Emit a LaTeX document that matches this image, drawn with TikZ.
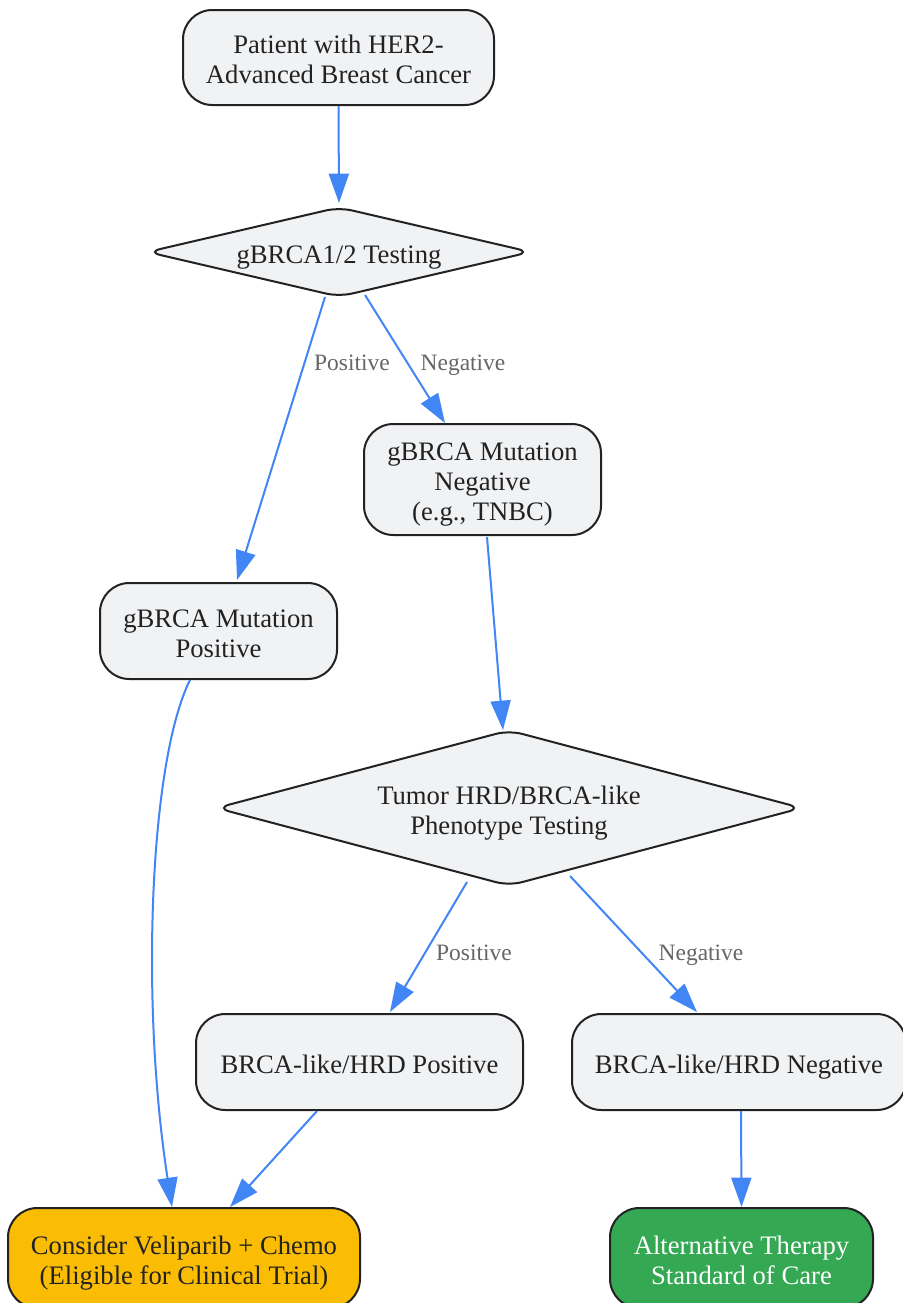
\documentclass[tikz,border=0pt]{standalone}
\usepackage{fontspec}
\setmainfont{Liberation Serif}
\usetikzlibrary{shapes.geometric,arrows.meta,calc}
\definecolor{nodefill}{HTML}{F1F2F4}
\definecolor{nodedraw}{HTML}{222222}
\definecolor{edgeblue}{HTML}{4285F4}
\definecolor{lblgray}{HTML}{666666}
\definecolor{yel}{HTML}{FBBC04}
\definecolor{grn}{HTML}{34A853}
\newcommand\nstrut{\rule[-0.216em]{0pt}{\dimexpr1.107em+3pt\relax}}
\newcommand\ml{\rule{0pt}{\dimexpr0.891em+3pt\relax}}
\newcommand\estrut{\rule[-0.216em]{0pt}{1.107em}}
\begin{document}
\begin{tikzpicture}[x=0.75pt,y=-0.75pt,
  box/.style={draw=nodedraw,line width=1.5pt,fill=nodefill,rounded corners=22pt,align=center,
    font=\fontsize{20}{22.5}\selectfont,text=nodedraw,inner sep=0pt,
    execute at begin node=\nstrut,execute at end node=\estrut},
  dia/.style={diamond,draw=nodedraw,line width=1.5pt,fill=nodefill,rounded corners=10pt,align=center,
    font=\fontsize{20}{22.5}\selectfont,text=nodedraw,inner sep=0pt,
    execute at begin node=\nstrut,execute at end node=\estrut},
  conn/.style={draw=edgeblue,line width=1.5pt,-{Triangle[length=22pt,width=15pt]}},
  lbl/.style={font=\fontsize{17.6}{20}\selectfont,text=lblgray,inner sep=0pt,
    execute at begin node=\estrut}]
\clip (0,0) rectangle (903,1303);
\fill[white] (0,0) rectangle (903,1303);

\node[box,minimum width={311*0.75pt},minimum height={95*0.75pt}] (start) at (338.5,57.5) {\ml Patient with HER2-\\Advanced Breast Cancer\estrut};
\node[dia,aspect=4.27,minimum width={384*0.75pt},minimum height={90*0.75pt}] (d1) at (339,252) {gBRCA1/2 Testing};
\node[box,minimum width={237*0.75pt},minimum height={111*0.75pt}] (neg) at (482.5,479.5) {\ml gBRCA Mutation\\Negative\\(e.g., TNBC)\estrut};
\node[box,minimum width={237*0.75pt},minimum height={96*0.75pt}] (pos) at (218.5,631) {\ml gBRCA Mutation\\Positive\estrut};
\node[dia,aspect=3.76,minimum width={586*0.75pt},minimum height={156*0.75pt}] (d2) at (509,808) {\ml Tumor HRD/BRCA-like\\Phenotype Testing\estrut};
\node[box,minimum width={327*0.75pt},minimum height={96*0.75pt}] (hpos) at (359.5,1062) {BRCA-like/HRD Positive};
\node[box,minimum width={334*0.75pt},minimum height={96*0.75pt}] (hneg) at (739,1062) {BRCA-like/HRD Negative};
\node[box,fill=yel,minimum width={352*0.75pt},minimum height={100*0.75pt}] (veli) at (184,1258) {\ml Consider Veliparib + Chemo\\(Eligible for Clinical Trial)\estrut};
\node[box,fill=grn,text=white,minimum width={263*0.75pt},minimum height={100*0.75pt}] (alt) at (741.5,1258) {\ml Alternative Therapy\\Standard of Care\estrut};

\draw[conn] (start.south) -- ([shift={(0,-49)}]d1.center);
\draw[conn] ([shift={(-14,45)}]d1.center) -- ([shift={(18.5,-51)}]pos.center);
\draw[conn] ([shift={(26,43)}]d1.center) -- ([shift={(-37.5,-56.5)}]neg.center);
\draw[conn] ([shift={(4.5,57.5)}]neg.center) -- ([shift={(-6,-78)}]d2.center);
\draw[conn] ([shift={(-28.5,49)}]pos.center) .. controls (150,760) and (140,1000) .. ([shift={(-12,-51)}]veli.center);
\draw[conn] ([shift={(-42,74)}]d2.center) -- ([shift={(30.5,-50)}]hpos.center);
\draw[conn] ([shift={(61,68)}]d2.center) -- ([shift={(-42,-50)}]hneg.center);
\draw[conn] ([shift={(-42.5,49)}]hpos.center) -- ([shift={(46,-51)}]veli.center);
\draw[conn] ([shift={(2,49)}]hneg.center) -- ([shift={(0,-51)}]alt.center);

\node[lbl] (l1) at (352,363) {Positive};
\node[lbl] (l2) at (463,363) {Negative};
\node[lbl] (l3) at (474,953) {Positive};
\node[lbl] (l4) at (701,953) {Negative};
\end{tikzpicture}
\end{document}
